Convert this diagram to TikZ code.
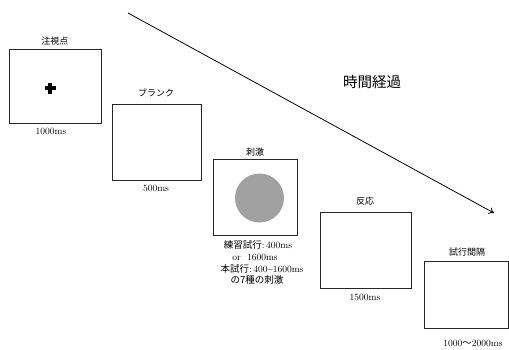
\documentclass[tikz,border=0pt]{standalone}
\usepackage{fontspec}
\newfontfamily\jp{Noto Sans CJK JP}
\usetikzlibrary{arrows.meta}
\begin{document}
\begin{tikzpicture}[x=1pt,y=-1pt,
  scr/.style={draw=black!85,line width=0.8pt,inner sep=0pt},
  ttl/.style={font=\jp\fontsize{9}{10}\selectfont,inner sep=0pt},
  dur/.style={font=\fontsize{9.5}{10}\selectfont,inner sep=0pt},
  stim/.style={inner sep=0pt,align=center}]
\useasboundingbox (0,0) rectangle (509,349);
% screens
\node[scr,minimum width=92pt,minimum height=74pt] (b1) at (55,86) {};
\node[scr,minimum width=89pt,minimum height=76pt] (b2) at (156.5,142) {};
\node[scr,minimum width=84pt,minimum height=76pt] (b3) at (255,197) {};
\node[scr,minimum width=91pt,minimum height=76pt] (b4) at (365.5,250) {};
\node[scr,minimum width=84pt,minimum height=67pt] (b5) at (466,294.5) {};
% fixation cross
\fill[black] (44.5,86.3) rectangle (55.5,90.3);
\fill[black] (48,82.8) rectangle (52,93.8);
% stimulus
\node[circle,fill=black!37,minimum size=49pt,inner sep=0pt] (c) at (259.5,198) {};
% titles
\node[ttl] (t1) at (55,41) {注視点};
\node[ttl] (t2) at (156,93) {ブランク};
\node[ttl] (t3) at (255,152) {刺激};
\node[ttl] (t4) at (365,201) {反応};
\node[ttl] (t5) at (467,252) {試行間隔};
% durations
\node[dur] (d1) at (51,131) {1000ms};
\node[dur] (d2) at (156,188) {500ms};
\node[dur] (d4) at (365,297) {1500ms};
\node[dur] (d5) at (473,343) {1000{\jp 〜}2000ms};
% stimulus durations
\node[stim,font=\fontsize{9.5}{10}\selectfont] (s1) at (258,245) {{\jp 練習試行}:\,400ms};
\node[stim,font=\fontsize{9.5}{10}\selectfont] (s2) at (255,257) {or\ \ 1600ms};
\node[stim,font=\fontsize{9.5}{10}\selectfont] (s3) at (262,269) {{\jp 本試行}:\,400\textasciitilde 1600ms};
\node[stim,font=\jp\fontsize{9.5}{10}\selectfont] (s4) at (257,280) {の7種の刺激};
% time arrow
\coordinate (a0) at (128,13);
\coordinate (a1) at (494,213);
\draw[line width=0.8pt,-{To[length=5pt,width=7pt]}] (a0) -- (a1);
\node[font=\jp\fontsize{14.5}{16}\selectfont,inner sep=0pt] (tl) at (372,82) {時間経過};
\end{tikzpicture}
\end{document}
